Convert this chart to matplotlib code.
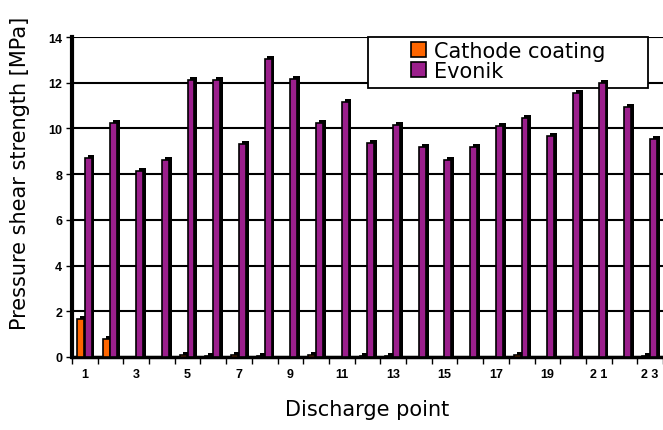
import numpy as np
import matplotlib
matplotlib.use('Agg')
import matplotlib.pyplot as plt
from matplotlib.patches import Rectangle

# discharge points 1..23
points = list(range(1, 24))
cathode = [1.65, 0.8, 0.0, 0.0, 0.1, 0.05, 0.1, 0.05, 0.0, 0.1, 0.0, 0.05,
           0.05, 0.0, 0.0, 0.0, 0.0, 0.1, 0.0, 0.0, 0.0, 0.0, 0.05]
evonik = [8.7, 10.25, 8.15, 8.6, 12.1, 12.1, 9.3, 13.05, 12.15, 10.25, 11.15, 9.35,
          10.15, 9.2, 8.6, 9.2, 10.1, 10.45, 9.65, 11.55, 12.0, 10.95, 9.55]
xlabels = ['1', '3', '5', '7', '9', '11', '13', '15', '17', '19', '2 1', '2 3']
yticks = [0, 2, 4, 6, 8, 10, 12, 14]

W, H = 663, 431
fig = plt.figure(figsize=(W / 100, H / 100), dpi=100)
ax = fig.add_axes([72 / W, 1 - 358 / H, 591 / W, 320 / H])

x = np.array(points, dtype=float)
w = 0.27
dx = 0.11
dy = 0.13

def bar3d(xpos, vals, color, label):
    vals = np.array(vals)
    # dark depth part drawn behind the face
    shadow_h = np.where(vals > 0, vals + dy, 0)
    ax.bar(xpos + dx, shadow_h, w, color='black', zorder=3)
    return ax.bar(xpos, vals, w, color=color, edgecolor='black', linewidth=1.2,
                  zorder=4, label=label)

b1 = bar3d(x - 0.17, cathode, '#ff6600', 'Cathode coating')
b2 = bar3d(x + 0.13, evonik, '#9b1f8c', 'Evonik')

ax.set_xlim(0.5, 23.5)
ax.set_ylim(0, 14)

ax.set_yticks(yticks)
ax.set_yticklabels([str(t) for t in yticks], fontsize=9, fontweight='bold',
                   family='Liberation Sans')
ax.yaxis.grid(True, color='black', linewidth=1.5, zorder=0)
ax.set_axisbelow(True)

ax.set_xticks(np.arange(0.5, 24, 1))
ax.set_xticklabels([])
ax.set_xticks(np.arange(1, 24, 2), minor=True)
ax.set_xticklabels(xlabels, minor=True, fontsize=9, fontweight='bold',
                   family='Liberation Sans')
ax.tick_params(axis='x', which='major', length=5, width=1, direction='out')
ax.tick_params(axis='x', which='minor', length=0, pad=8)
ax.tick_params(axis='y', length=4, width=1, direction='out', pad=3)

for side in ['top', 'right']:
    ax.spines[side].set_visible(False)
ax.spines['left'].set_linewidth(3)
ax.spines['bottom'].set_linewidth(2.5)

fig.text(367 / W, 1 - 410 / H, 'Discharge point', ha='center', va='center',
         fontsize=15)
fig.text(20 / W, 1 - 330 / H, 'Pressure shear strength [MPa]',
         rotation=90, ha='center', va='bottom', fontsize=15)

# legend box drawn by hand (wide padding), kept under the bars like the original
box = Rectangle((368 / W, 1 - 89 / H), 280 / W, 51 / H,
                transform=fig.transFigure, facecolor='white',
                edgecolor='black', linewidth=1.3, zorder=2, clip_on=False)
ax.add_patch(box)
leg = ax.legend(handles=[b1, b2], loc='upper left',
                bbox_to_anchor=(411 / W, 1 - 42 / H),
                bbox_transform=fig.transFigure, fontsize=15,
                frameon=False, handlelength=0.7, handleheight=0.7,
                handletextpad=0.4, labelspacing=0.0, borderpad=0,
                borderaxespad=0)
leg.set_zorder(2.5)
for h in leg.legend_handles:
    h.set_edgecolor('black')
    h.set_linewidth(1.2)

fig.savefig('out.png', dpi=100)
